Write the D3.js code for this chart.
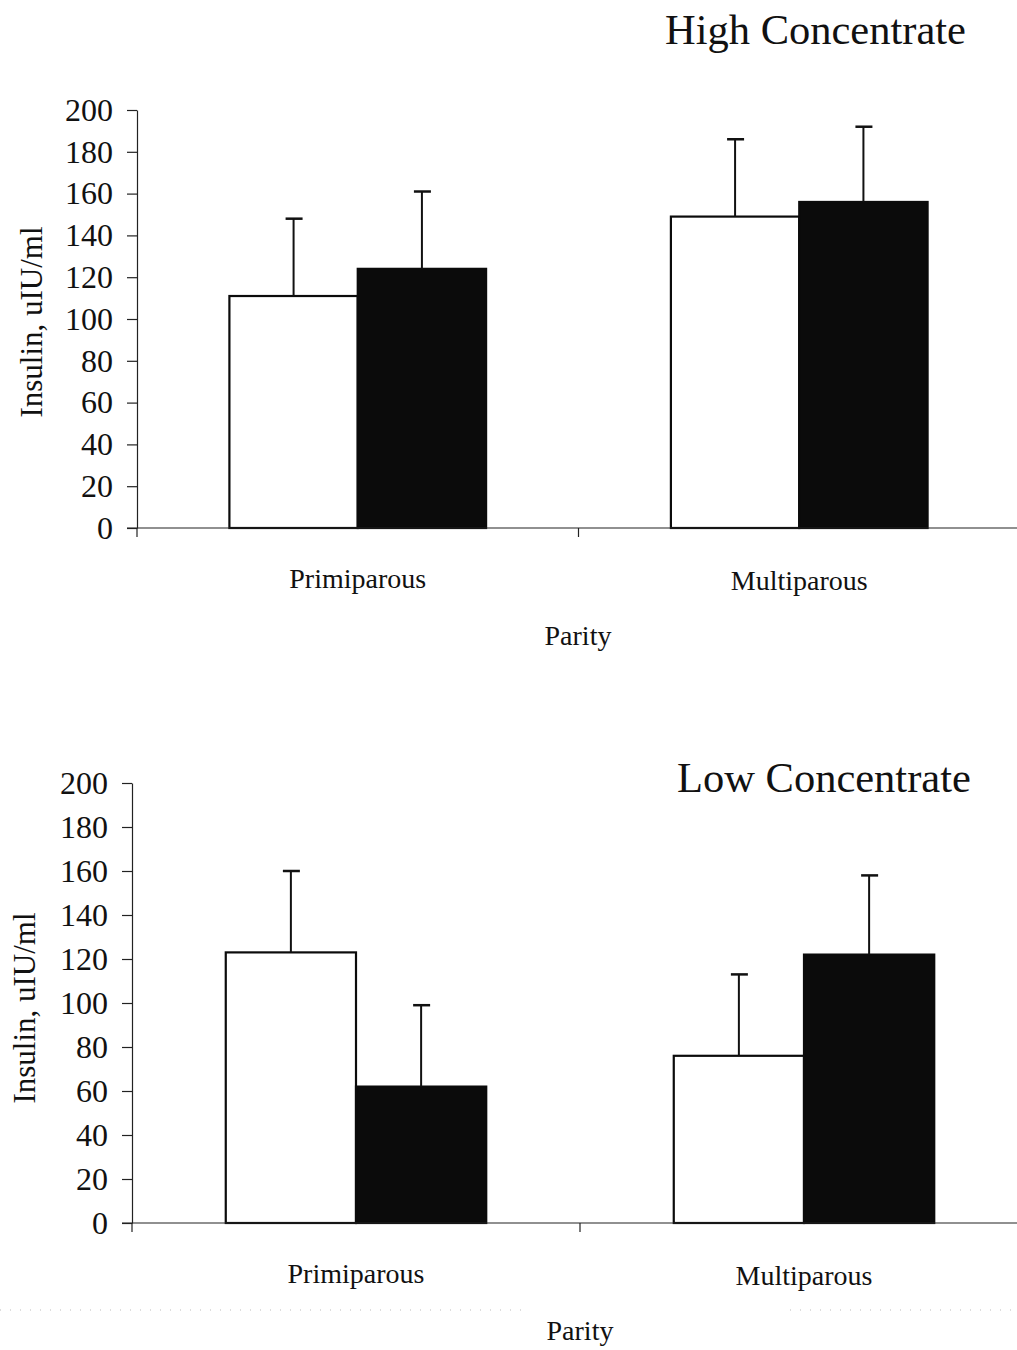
<!DOCTYPE html>
<html>
<head>
<meta charset="utf-8">
<script src="https://cdn.jsdelivr.net/npm/d3@7"></script>
<style>
  html, body { margin: 0; padding: 0; background: #fff; }
  svg { display: block; }
  text { font-family: "Liberation Serif", "Times New Roman", serif; fill: #111; }
</style>
</head>
<body>
<svg id="chart" width="1017" height="1350"></svg>
<script>
// Parity groups and diet series
const categories = ["Primiparous", "Multiparous"];
const series = ["Control", "Treated"];
const yTicks = [0, 20, 40, 60, 80, 100, 120, 140, 160, 180, 200];

// High concentrate diet: means and SE (uIU/ml)
const highMeans = [[111, 124], [149, 156]];
const highErr = [[37, 37], [37, 36]];

// Low concentrate diet: means and SE (uIU/ml)
const lowMeans = [[123, 62], [76, 122]];
const lowErr = [[37, 37], [37, 36]];

const svg = d3.select("#chart");
const fills = ["#ffffff", "#0b0b0b"];

function panel(opt) {
  const g = svg.append("g");
  const x = d3.scaleBand().domain(categories).range([opt.x0, opt.x1]);
  const y = d3.scaleLinear().domain([0, 200]).range([opt.yBottom, opt.yTop]);
  const inner = d3.scaleBand().domain(series).range([0, x.bandwidth()]).paddingOuter(0.72).paddingInner(0);

  // y axis
  const ya = g.append("g").attr("transform", `translate(${opt.x0},0)`)
    .call(d3.axisLeft(y).tickValues(yTicks).tickSize(10).tickPadding(14).tickSizeOuter(0));
  ya.select(".domain").attr("stroke", "#222").attr("stroke-width", 1.2);
  ya.selectAll(".tick line").attr("stroke", "#222").attr("stroke-width", 1.2);
  ya.selectAll("text").style("font-size", "32px").attr("fill", "#111")
    .style("font-family", '"Liberation Serif", serif');

  // bars
  categories.forEach((c, ci) => {
    series.forEach((s, si) => {
      const v = opt.means[ci][si];
      const e = opt.err[ci][si];
      const bx = x(c) + inner(s);
      const cx = bx + inner.bandwidth() / 2;
      g.append("rect")
        .attr("x", bx).attr("y", y(v))
        .attr("width", inner.bandwidth()).attr("height", y(0) - y(v))
        .attr("fill", fills[si]).attr("stroke", "#0b0b0b").attr("stroke-width", 2.2);
      g.append("line").attr("x1", cx).attr("x2", cx).attr("y1", y(v)).attr("y2", y(v + e))
        .attr("stroke", "#111").attr("stroke-width", 2);
      g.append("line").attr("x1", cx - 8).attr("x2", cx + 9).attr("y1", y(v + e)).attr("y2", y(v + e))
        .attr("stroke", "#111").attr("stroke-width", 2.5);
    });
  });

  // x axis (category boundaries)
  const xa = g.append("g").attr("transform", `translate(0,${opt.yBottom})`);
  xa.append("line").attr("x1", opt.x0 - 10).attr("x2", opt.x1).attr("y1", 0).attr("y2", 0)
    .attr("stroke", "#222").attr("stroke-width", 1.2);
  const bounds = [opt.x0, x(categories[1])];
  xa.selectAll("line.b").data(bounds).join("line").attr("class", "b")
    .attr("x1", d => d).attr("x2", d => d).attr("y1", 0).attr("y2", 9)
    .attr("stroke", "#222").attr("stroke-width", 1.2);
  g.selectAll("text.cat").data(categories).join("text").attr("class", "cat")
    .attr("x", d => x(d) + x.bandwidth() / 2)
    .attr("y", (d, i) => opt.catY + i * 2)
    .attr("text-anchor", "middle").style("font-size", "28px").text(d => d);

  // axis titles
  g.append("text").attr("x", opt.parityX).attr("y", opt.parityY)
    .attr("text-anchor", "middle").style("font-size", "28px").text("Parity");
  g.append("text")
    .attr("transform", `translate(${opt.yLabX},${opt.yLabY}) rotate(-90)`)
    .attr("text-anchor", "middle").style("font-size", "31px").text("Insulin, uIU/ml");
  g.append("text").attr("x", opt.titleX).attr("y", opt.titleY)
    .style("font-size", "42.5px").text(opt.title);
}

panel({
  title: "High Concentrate", titleX: 665, titleY: 44,
  means: highMeans, err: highErr,
  x0: 137, x1: 1020, yTop: 110, yBottom: 528,
  catY: 588, parityX: 578, parityY: 645, yLabX: 42, yLabY: 322
});

panel({
  title: "Low Concentrate", titleX: 677, titleY: 792,
  means: lowMeans, err: lowErr,
  x0: 132, x1: 1028, yTop: 783, yBottom: 1223,
  catY: 1283, parityX: 580, parityY: 1340, yLabX: 35, yLabY: 1008
});

// faint dotted page edge below the lower panel
svg.append("line").attr("x1", 0).attr("x2", 530).attr("y1", 1310).attr("y2", 1310)
  .attr("stroke", "#bbb").attr("stroke-width", 1).attr("stroke-dasharray", "1 9");
svg.append("line").attr("x1", 790).attr("x2", 1017).attr("y1", 1310).attr("y2", 1310)
  .attr("stroke", "#bbb").attr("stroke-width", 1).attr("stroke-dasharray", "1 9");
</script>
</body>
</html>
